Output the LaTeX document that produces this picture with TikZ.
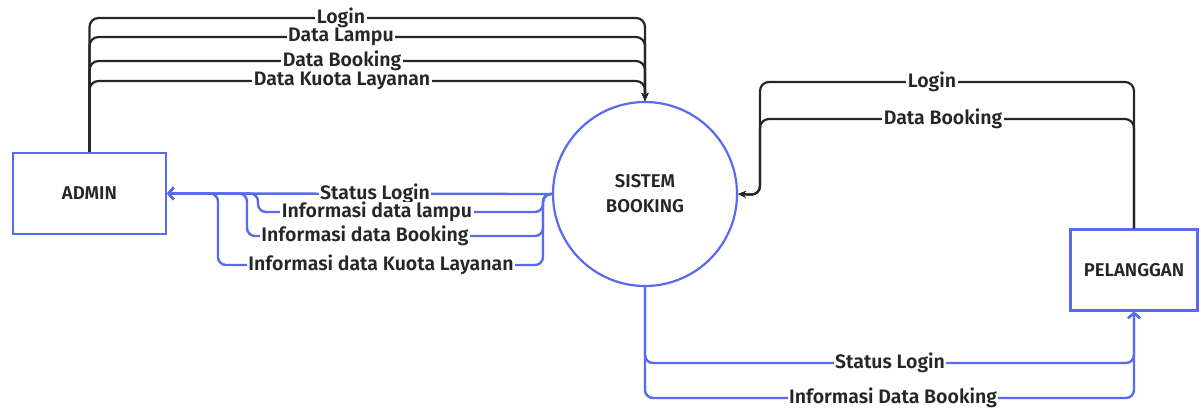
\documentclass[tikz,border=0pt]{standalone}
\usepackage{fontspec}
\setmainfont{Fira Sans}[BoldFont={* SemiBold}]
\usetikzlibrary{arrows.meta}
\definecolor{flowblue}{RGB}{88,106,240}
\definecolor{ink}{RGB}{38,38,38}
\begin{document}
\begin{tikzpicture}[x=1pt,y=-1pt,
  entity/.style={draw=flowblue, line width=2.2pt, inner sep=0pt,
    minimum height=81pt, text=ink, font=\bfseries\fontsize{18.5}{20}\selectfont},
  process/.style={circle, draw=flowblue, line width=2.2pt, inner sep=0pt,
    minimum size=184pt, align=center, text=ink,
    font=\bfseries\fontsize{18.5}{25}\selectfont},
  dataflow/.style={draw=ink, line width=2.2pt, rounded corners=9pt,
    -{Stealth[length=8pt,width=7pt]}},
  infoflow/.style={draw=flowblue, line width=2.4pt, rounded corners=8pt,
    -{Straight Barb[length=5pt,width=12pt]}},
  flowlabel/.style={fill=white, inner xsep=1.5pt, inner ysep=0pt, text=ink,
    font=\bfseries\fontsize{19.5}{20}\selectfont}]
\useasboundingbox (0,0) rectangle (1201,408);

% entities and the process
\node[entity, minimum width=153pt] (admin) at (89.5,193.5) {ADMIN};
\node[entity, minimum width=127pt] (pel) at (1134,270) {PELANGGAN};
\node[process] (sys) at (645,194) {SISTEM\\BOOKING};

% ADMIN -> SISTEM BOOKING
\foreach \yy in {18,37,61,81}
  \draw[dataflow] (admin.north) -- (admin.north |- 0,\yy)
    -- (sys.north |- 0,\yy) -- (sys.north);

% PELANGGAN -> SISTEM BOOKING
\coordinate (pj) at (760,195);
\foreach \yy in {82,119}
  \draw[dataflow] (pel.north) -- (pel.north |- 0,\yy)
    -- (pj |- 0,\yy) -- (pj) -- (sys.east);

% SISTEM BOOKING -> ADMIN
\coordinate (aj) at (543,194);
\draw[infoflow] (sys.west) -- (admin.east);
\draw[infoflow] (sys.west) -- (aj) -- (aj |- 0,212) -- (258,212)
  -- (258,193.5) -- (admin.east);
\draw[infoflow] (sys.west) -- (aj) -- (aj |- 0,236) -- (247,236)
  -- (247,193.5) -- (admin.east);
\draw[infoflow] (sys.west) -- (aj) -- (aj |- 0,265) -- (218,265)
  -- (218,193.5) -- (admin.east);

% SISTEM BOOKING -> PELANGGAN
\foreach \yy in {363,398}
  \draw[infoflow] (sys.south) -- (sys.south |- 0,\yy)
    -- (pel.south |- 0,\yy) -- (pel.south);

% flow labels
\node[flowlabel] (l1) at (341,18) {Login};
\node[flowlabel] (l2) at (341,37) {Data Lampu};
\node[flowlabel] (l3) at (342,61) {Data Booking};
\node[flowlabel] (l4) at (342,81) {Data Kuota Layanan};
\node[flowlabel] (l5) at (932,82) {Login};
\node[flowlabel] (l6) at (943,119) {Data Booking};
\node[flowlabel] (l7) at (375,194) {Status Login};
\node[flowlabel] (l8) at (377,212) {Informasi data lampu};
\node[flowlabel] (l9) at (365,236) {Informasi data Booking};
\node[flowlabel] (l10) at (381,265) {Informasi data Kuota Layanan};
\node[flowlabel] (l11) at (890,363) {Status Login};
\node[flowlabel] (l12) at (893,398) {Informasi Data Booking};
\end{tikzpicture}
\end{document}
